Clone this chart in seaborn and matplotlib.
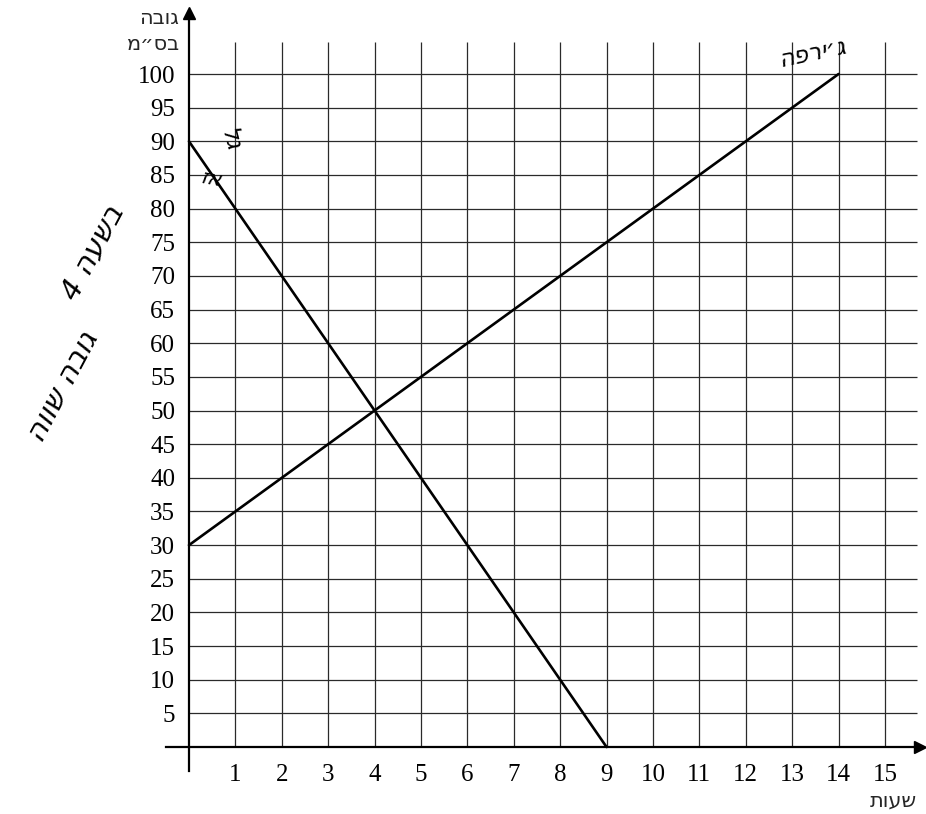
import matplotlib
matplotlib.use("Agg")
import matplotlib.pyplot as plt
import seaborn as sns
import pandas as pd

# ---- data ----
hours_a = [0, 9]
height_a = [90, 0]
hours_b = [0, 14]
height_b = [30, 100]
x_ticks = list(range(1, 16))
y_ticks = list(range(5, 105, 5))

def heb(s):
    return s[::-1]

sns.set_style("white")
plt.rcParams["font.family"] = ["Liberation Serif", "DejaVu Serif"]

fig = plt.figure(figsize=(9.26, 8.14), dpi=100)
ax = fig.add_axes([0.1790, 0.0533, 0.8143, 0.9302])
ax.set_xlim(-0.5, 15.75)
ax.set_ylim(-3.5, 109)

grid_c = "#2a2a2a"
ax.vlines(x_ticks, 0, 104.8, color=grid_c, lw=0.9, zorder=1)
ax.hlines(y_ticks, 0, 15.7, color=grid_c, lw=0.9, zorder=1)

df = pd.concat([
    pd.DataFrame({"hours": hours_a, "height": height_a, "s": "a"}),
    pd.DataFrame({"hours": hours_b, "height": height_b, "s": "b"}),
])
sns.lineplot(data=df, x="hours", y="height", units="s", estimator=None,
             color="black", lw=1.9, ax=ax, zorder=3)
ax.set_xlabel("")
ax.set_ylabel("")

for side in ["top", "right"]:
    ax.spines[side].set_visible(False)
ax.spines["left"].set_position(("data", 0))
ax.spines["bottom"].set_position(("data", 0))
ax.spines["left"].set_linewidth(1.6)
ax.spines["bottom"].set_linewidth(1.6)
ax.spines["left"].set_color("black")
ax.spines["bottom"].set_color("black")

ax.set_xticks(x_ticks)
ax.set_xticklabels([str(v) for v in x_ticks])
ax.set_yticks(y_ticks)
ax.set_yticklabels([str(v) for v in y_ticks])
ax.tick_params(axis="x", direction="out", length=6, width=1, pad=6, labelsize=18,
               labelcolor="black")
ax.tick_params(axis="y", direction="out", length=6, width=1, pad=4, labelsize=18,
               labelcolor="black")

# arrows
ax.plot(1, 0, ">", color="black", ms=9, transform=ax.get_yaxis_transform(), clip_on=False)
ax.plot(0, 1, "^", color="black", ms=9, transform=ax.get_xaxis_transform(), clip_on=False)

# axis titles
fig.text(0.193, 0.978, heb("גובה"), ha="right", va="center", fontsize=15,
         family=["DejaVu Sans"])
fig.text(0.194, 0.946, heb("בס״מ"), ha="right", va="center", fontsize=15,
         family=["DejaVu Sans"])
fig.text(0.990, 0.017, heb("שעות"), ha="right", va="center", fontsize=15,
         family=["DejaVu Sans"])

# handwritten notes
hand = dict(family=["DejaVu Sans"], style="italic", color="black", fontweight="light")
fig.text(0.100, 0.690, heb("בשעה 4"), rotation=62, ha="center", va="center", fontsize=21, **hand)
fig.text(0.068, 0.525, heb("גובה שווה"), rotation=62, ha="center", va="center", fontsize=21, **hand)
fig.text(0.878, 0.935, heb("ג׳ירפה"), rotation=12, ha="center", va="center", fontsize=17, **hand)
fig.text(0.248, 0.828, heb("גל"), rotation=-75, ha="center", va="center", fontsize=17, **hand)
fig.text(0.228, 0.780, heb("אז"), rotation=-10, ha="center", va="center", fontsize=15, **hand)

fig.savefig("out.png", dpi=100, facecolor="white")
